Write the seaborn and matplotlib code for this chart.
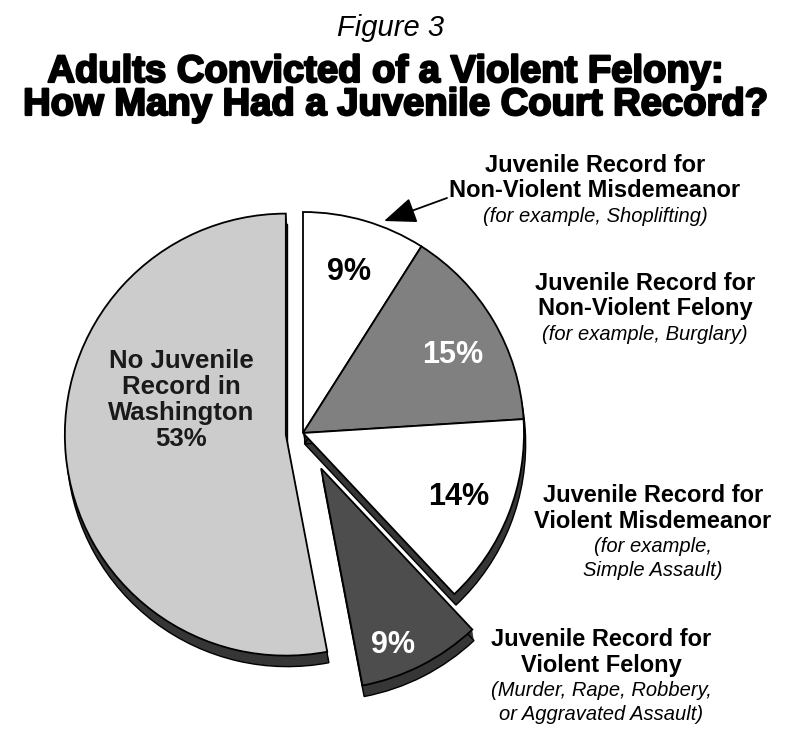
import matplotlib
matplotlib.use("Agg")
import matplotlib.pyplot as plt
import matplotlib.patheffects as pe
import seaborn as sns

# ---- data ----
categories = ["Non-Violent Misdemeanor", "Non-Violent Felony", "Violent Misdemeanor",
              "Violent Felony", "No Juvenile Record in Washington"]
percent = [9, 15, 14, 9, 53]
explode_frac = [0, 0, 0, 0.18, 0.078]
colors = ["#ffffff", "#808080", "#ffffff", "#4d4d4d", "#cccccc"]
pct_colors = ["black", "white", "black", "white", "#1a1a1a"]

sns.set_theme(style="white")
plt.rcParams['font.family'] = ['Liberation Sans', 'DejaVu Sans']

W, H = 787, 730
fig = plt.figure(figsize=(W / 100, H / 100), dpi=100)
ax = fig.add_axes([0, 0, 1, 1])


def Y(y):
    return H - y


cx, cy, R = 303, Y(433), 221
explode = [e * R for e in explode_frac]

# extrusion (3D side)
depth = 11
for k in range(1, depth + 1):
    last = (k == depth)
    ax.pie(percent, explode=explode, startangle=90, counterclock=False,
           center=(cx + 0.15 * k, cy - k), radius=R,
           colors=["#363636"] * len(percent),
           wedgeprops=dict(linewidth=1.0 if last else 0, edgecolor="black"))

wedges, _ = ax.pie(percent, explode=explode, startangle=90, counterclock=False,
                   center=(cx, cy), radius=R, colors=colors,
                   wedgeprops=dict(linewidth=1.3, edgecolor="black"))

ax.set_xlim(0, W)
ax.set_ylim(0, H)
ax.set_aspect('auto')
ax.axis('off')

# percentage labels
pct_pos = [(349, 272), (453, 355), (459, 497), (393, 645)]
for i, (x, y) in enumerate(pct_pos):
    ax.text(x, Y(y), f"{percent[i]}%", ha="center", va="center",
            fontsize=22, fontweight="bold", color=pct_colors[i])

ax.text(181, Y(400), f"No Juvenile\nRecord in\nWashington\n{percent[4]}%",
        ha="center", va="center", fontsize=18.5, fontweight="bold",
        color=pct_colors[4], linespacing=1.12)

# category labels
def label(x, y, bold_lines, ital_lines, fs_b=17, fs_i=14.5, step=25.5):
    yy = y
    for t in bold_lines:
        ax.text(x, Y(yy), t, ha="center", va="center", fontsize=fs_b,
                fontweight="bold", color="black")
        yy += step
    for t in ital_lines:
        ax.text(x, Y(yy), t, ha="center", va="center", fontsize=fs_i,
                style="italic", color="black")
        yy += step - 1.5


label(595, 165, ["Juvenile Record for", "Non-Violent Misdemeanor"],
      ["(for example, Shoplifting)"])
label(645, 283, ["Juvenile Record for", "Non-Violent Felony"],
      ["(for example, Burglary)"])
label(653, 496, ["Juvenile Record for", "Violent Misdemeanor"],
      ["(for example,", "Simple Assault)"])
label(601, 640, ["Juvenile Record for", "Violent Felony"],
      ["(Murder, Rape, Robbery,", "or Aggravated Assault)"])

# arrow
ax.annotate("", xy=(384, Y(221)), xytext=(447, Y(198)),
            arrowprops=dict(arrowstyle="-|>,head_length=0.8,head_width=0.32",
                            color="black", lw=1.3, mutation_scale=25,
                            shrinkA=0, shrinkB=0))

# title
ax.text(391, Y(28), "Figure 3", ha="center", va="center", fontsize=21,
        style="italic", color="black")
stroke = [pe.withStroke(linewidth=1.6, foreground="black")]
ax.text(386, Y(72), "Adults Convicted of a Violent Felony:", ha="center",
        va="center", fontsize=27.5, fontweight="bold", color="black",
        path_effects=stroke)
ax.text(396, Y(105), "How Many Had a Juvenile Court Record?", ha="center",
        va="center", fontsize=27.5, fontweight="bold", color="black",
        path_effects=stroke)

fig.savefig("out.png", dpi=100)
